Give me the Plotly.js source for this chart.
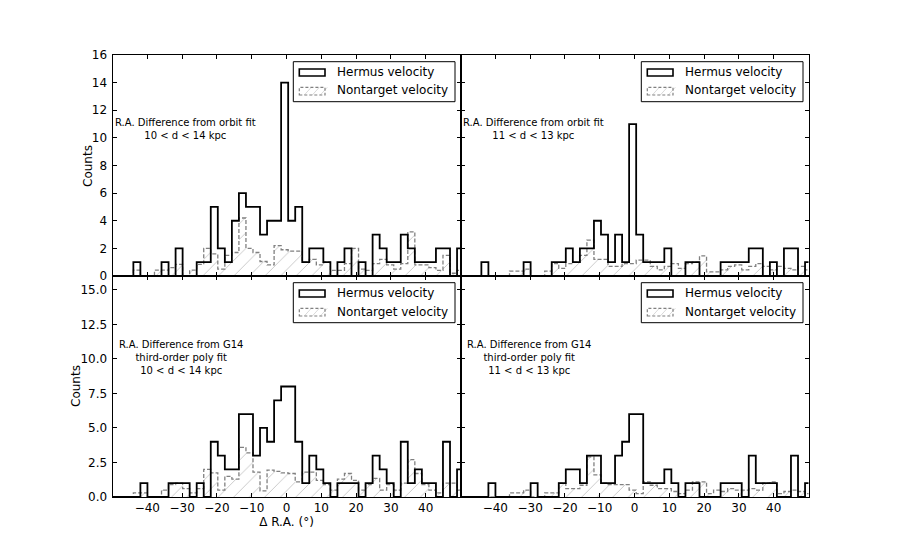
<!DOCTYPE html>
<html>
<head>
<meta charset="utf-8">
<script src="https://cdn.plot.ly/plotly-3.0.1.min.js"></script>
<style>html,body{margin:0;padding:0;background:#fff;}#chart{width:899px;height:553px;}</style>
</head>
<body>
<div id="chart"></div>
<script>
// ---------------- DATA ----------------
// Histogram bins (degrees of Delta R.A.)
const BIN_START = -50.07;
const BIN_WIDTH = 2.022;
const N_BINS = 50;

// Panel labels / texts
const seriesNames = ["Hermus velocity", "Nontarget velocity"];
const panelNotes = [
  "R.A. Difference from orbit fit<br>10 &lt; d &lt; 14 kpc",
  "R.A. Difference from orbit fit<br>11 &lt; d &lt; 13 kpc",
  "R.A. Difference from G14<br>third-order poly fit<br>10 &lt; d &lt; 14 kpc",
  "R.A. Difference from G14<br>third-order poly fit<br>11 &lt; d &lt; 13 kpc"
];
const yTitle = "Counts";
const xTitle = "Δ R.A. (°)";
const xTickVals = [-40, -30, -20, -10, 0, 10, 20, 30, 40];

// Counts per bin – orbit fit, 10<d<14 kpc
const hermusOrbit1014 = [0,0,0,1,0,0,0,1,0,2, 0,0,1,1,5,2,1,4,6,5, 5,3,4,4,14,4,5,1,2,2, 1,0,1,2,0,1,0,3,2,1, 1,3,2,1,1,1,2,2,0,2];
const nontargetOrbit1014 = [0,0,0,0.42,0,0,0.42,0.42,0.6,0.84, 0,0.42,0.84,2.0,1.6,0.5,1.5,1.7,4.2,2.0, 1.7,1.05,0.8,2.2,1.9,1.8,1.8,1.0,1.2,0.8, 1.0,0.4,0.4,0.9,2.0,0.5,0.4,0.9,1.2,0.8, 0.5,0.9,3.2,0.8,0.8,0.6,0.4,1.5,0.2,0.4];

// orbit fit, 11<d<13 kpc
const hermusOrbit1113 = [0,0,0,1,0,0,0,0,0,1, 0,0,0,1,1,2,1,2,2,4, 3,1,3,1,11,3,1,1,1,2, 0,0,1,1,0,0,0,1,1,1, 1,2,2,0,1,0,2,2,0,1];
const nontargetOrbit1113 = [0,0,0,0,0,0,0,0.35,0.35,0.5, 0,0,0.35,0.9,0.55,0.9,1.0,1.5,2.6,1.2, 1.2,0.7,0.7,0.9,0.9,1.15,1.15,0.7,0.45,0.7, 0.9,0.55,0.9,1.0,1.45,0.3,0.3,0.45,0.7,0.8, 0.45,0.7,0.9,0.7,0.45,0.7,0.55,0.45,0.7,0.45];

// G14 poly fit, 10<d<14 kpc
const hermusPoly1014 = [0,0,0,0,1,0,0,0,1,1, 1,0,1,0,4,3,2,2,6,6, 3,5,4,7,8,8,4,1,3,2, 1,0,1,1,1,0,1,3,2,1, 0,4,1,2,1,1,0,4,0,2];
const nontargetPoly1014 = [0,0,0,0.3,0.3,0,0,0.5,0.9,1.0, 0.6,0.3,0.6,2.0,1.75,0.5,1.5,1.3,3.6,3.2, 1.8,0.45,1.95,1.85,1.75,1.7,1.1,1.8,1.8,1.2, 0.9,0.5,1.3,1.7,1.2,0.5,0.9,1.35,0.5,0.9, 0.5,1.0,2.7,1.7,0.9,0.5,0.3,1.0,1.0,0.5];

// G14 poly fit, 11<d<13 kpc
const hermusPoly1113 = [0,0,0,0,1,0,0,0,0,0, 1,0,0,0,1,2,2,1,3,3, 1,1,3,4,6,6,1,1,1,2, 1,0,1,1,0,0,0,1,1,1, 0,3,1,1,1,0,0,3,0,1];
const nontargetPoly1113 = [0,0,0,0,0,0,0,0.3,0.3,0.5, 0,0,0.3,0.3,1.0,0.6,0.6,0.85,2.9,1.6, 1.0,0.9,0.9,0.9,0.5,0.25,1.1,0.85,0.6,0.6, 0.4,0.25,0.5,1.1,1.1,0.25,0.5,0.4,0.6,0.5, 0.5,0.6,0.5,1.0,1.1,0.25,0.4,0.5,0.4,0.25];

// ---------------- BUILD ----------------
const W = 899, H = 553;
const FONT = "DejaVu Sans, Liberation Sans, sans-serif";
const px = x => x / W;
const py = y => 1 - y / H;

const edges = [];
for (let k = 0; k <= N_BINS; k++) edges.push(BIN_START + BIN_WIDTH * k);

function stepXY(counts) {
  const xs = [edges[0]], ys = [0];
  for (let k = 0; k < counts.length; k++) { xs.push(edges[k]); ys.push(counts[k]); }
  xs.push(edges[counts.length]); ys.push(counts[counts.length - 1]);
  xs.push(edges[counts.length]); ys.push(0);
  return {xs, ys};
}

const panels = [
  {xa: "x",  ya: "y",  herm: hermusOrbit1014, non: nontargetOrbit1014, left: 112.5, top: 55,  noteX: 185, noteY: 129, note: panelNotes[0]},
  {xa: "x2", ya: "y2", herm: hermusOrbit1113, non: nontargetOrbit1113, left: 460.5, top: 55,  noteX: 533, noteY: 129, note: panelNotes[1]},
  {xa: "x3", ya: "y3", herm: hermusPoly1014,  non: nontargetPoly1014,  left: 112.5, top: 276, noteX: 181, noteY: 357, note: panelNotes[2]},
  {xa: "x4", ya: "y4", herm: hermusPoly1113,  non: nontargetPoly1113,  left: 460.5, top: 276, noteX: 529, noteY: 357, note: panelNotes[3]}
];

const traces = [];
const shapes = [];
const annotations = [];

panels.forEach(p => {
  const n = stepXY(p.non);
  traces.push({
    type: "scatter", mode: "lines", x: n.xs, y: n.ys, xaxis: p.xa, yaxis: p.ya,
    name: seriesNames[1], showlegend: false, hoverinfo: "skip",
    line: {shape: "hv", color: "#808080", width: 1.3, dash: "4px,2px"},
    fill: "tozeroy", fillcolor: "rgba(0,0,0,0)",
    fillpattern: {shape: "/", fgcolor: "#c4c4c4", bgcolor: "rgba(0,0,0,0)", size: 11, solidity: 0.08}
  });
  const h = stepXY(p.herm);
  traces.push({
    type: "scatter", mode: "lines", x: h.xs, y: h.ys, xaxis: p.xa, yaxis: p.ya,
    name: seriesNames[0], showlegend: false, hoverinfo: "skip",
    line: {shape: "hv", color: "#000000", width: 1.8}
  });

  // Note text
  annotations.push({
    xref: "paper", yref: "paper", x: px(p.noteX), y: py(p.noteY),
    xanchor: "center", yanchor: "middle", showarrow: false, align: "center",
    text: p.note, font: {family: FONT, size: 10, color: "#000"}
  });

  // Legend box
  const right = p.left + 348;
  const lx0 = right - 167.2, lx1 = right - 5.5;
  const ly0 = p.top + 6.7, ly1 = p.top + 46.7;
  shapes.push({type: "rect", xref: "paper", yref: "paper", x0: px(lx0), x1: px(lx1), y0: py(ly1), y1: py(ly0),
    line: {color: "#000", width: 1}, fillcolor: "#fff", layer: "above"});
  const patchX0 = lx0 + 6, patchX1 = lx0 + 31.7;
  shapes.push({type: "rect", xref: "paper", yref: "paper", x0: px(patchX0), x1: px(patchX1),
    y0: py(p.top + 21), y1: py(p.top + 14), line: {color: "#000", width: 1.6}, fillcolor: "rgba(0,0,0,0)", layer: "above"});
  for (let i = 0; i < 3; i++) {
    const hx = patchX0 + 5 + i * 8;
    shapes.push({type: "line", xref: "paper", yref: "paper", x0: px(hx), x1: px(hx + 7),
      y0: py(p.top + 40), y1: py(p.top + 32.3), line: {color: "#cfcfcf", width: 0.8}, layer: "above"});
  }
  shapes.push({type: "rect", xref: "paper", yref: "paper", x0: px(patchX0), x1: px(patchX1),
    y0: py(p.top + 40), y1: py(p.top + 32.3), line: {color: "#808080", width: 1.2, dash: "3px,2px"}, fillcolor: "rgba(0,0,0,0)", layer: "above"});
  annotations.push({xref: "paper", yref: "paper", x: px(lx0 + 41.7), y: py(p.top + 17.3), xanchor: "left", yanchor: "middle",
    showarrow: false, text: seriesNames[0], font: {family: FONT, size: 12, color: "#000"}});
  annotations.push({xref: "paper", yref: "paper", x: px(lx0 + 41.7), y: py(p.top + 35.5), xanchor: "left", yanchor: "middle",
    showarrow: false, text: seriesNames[1], font: {family: FONT, size: 12, color: "#000"}});
});

// y-axis titles ("Counts") placed like the reference
annotations.push({xref: "paper", yref: "paper", x: px(88), y: py(166), xanchor: "center", yanchor: "middle",
  textangle: -90, showarrow: false, text: yTitle, font: {family: FONT, size: 12, color: "#000"}});
annotations.push({xref: "paper", yref: "paper", x: px(76), y: py(386), xanchor: "center", yanchor: "middle",
  textangle: -90, showarrow: false, text: yTitle, font: {family: FONT, size: 12, color: "#000"}});

const xL = [px(112.5), px(460.5)], xR = [px(460.5), px(808.5)];
const yT = [py(276), py(55)], yB = [py(497), py(276)];
const tickFont = {family: FONT, size: 12, color: "#000"};

function xaxis(domain, anchor, labels, title) {
  const a = {domain, anchor, range: [-50, 50], tickmode: "array", tickvals: xTickVals,
    showticklabels: labels, ticks: "inside", ticklen: 4, tickwidth: 1, tickcolor: "#000",
    showline: true, linecolor: "#000", linewidth: 1, mirror: "allticks",
    showgrid: false, zeroline: false, tickfont: tickFont, automargin: false};
  if (title) a.title = {text: title, font: {family: FONT, size: 12, color: "#000"}, standoff: 3};
  return a;
}
function yaxis(domain, anchor, labels, dtick, fmt) {
  return {domain, anchor, range: [0, 16], tick0: 0, dtick: dtick, tickformat: fmt,
    showticklabels: labels, ticks: "inside", ticklen: 4, tickwidth: 1, tickcolor: "#000",
    showline: true, linecolor: "#000", linewidth: 1, mirror: "allticks",
    showgrid: false, zeroline: false, tickfont: tickFont, automargin: false, ticklabelstandoff: 2};
}

const layout = {
  width: W, height: H,
  margin: {l: 0, r: 0, t: 0, b: 0},
  paper_bgcolor: "#fff", plot_bgcolor: "rgba(0,0,0,0)",
  showlegend: false,
  font: {family: FONT, color: "#000"},
  xaxis:  xaxis(xL, "y",  false),
  yaxis:  yaxis(yT, "x",  true, 2, "d"),
  xaxis2: xaxis(xR, "y2", false),
  yaxis2: yaxis(yT, "x2", false, 2, "d"),
  xaxis3: xaxis(xL, "y3", true, xTitle),
  yaxis3: yaxis(yB, "x3", true, 2.5, ".1f"),
  xaxis4: xaxis(xR, "y4", true),
  yaxis4: yaxis(yB, "x4", false, 2.5, ".1f"),
  shapes, annotations
};

Plotly.newPlot("chart", traces, layout, {displayModeBar: false, staticPlot: true});
</script>
</body>
</html>
